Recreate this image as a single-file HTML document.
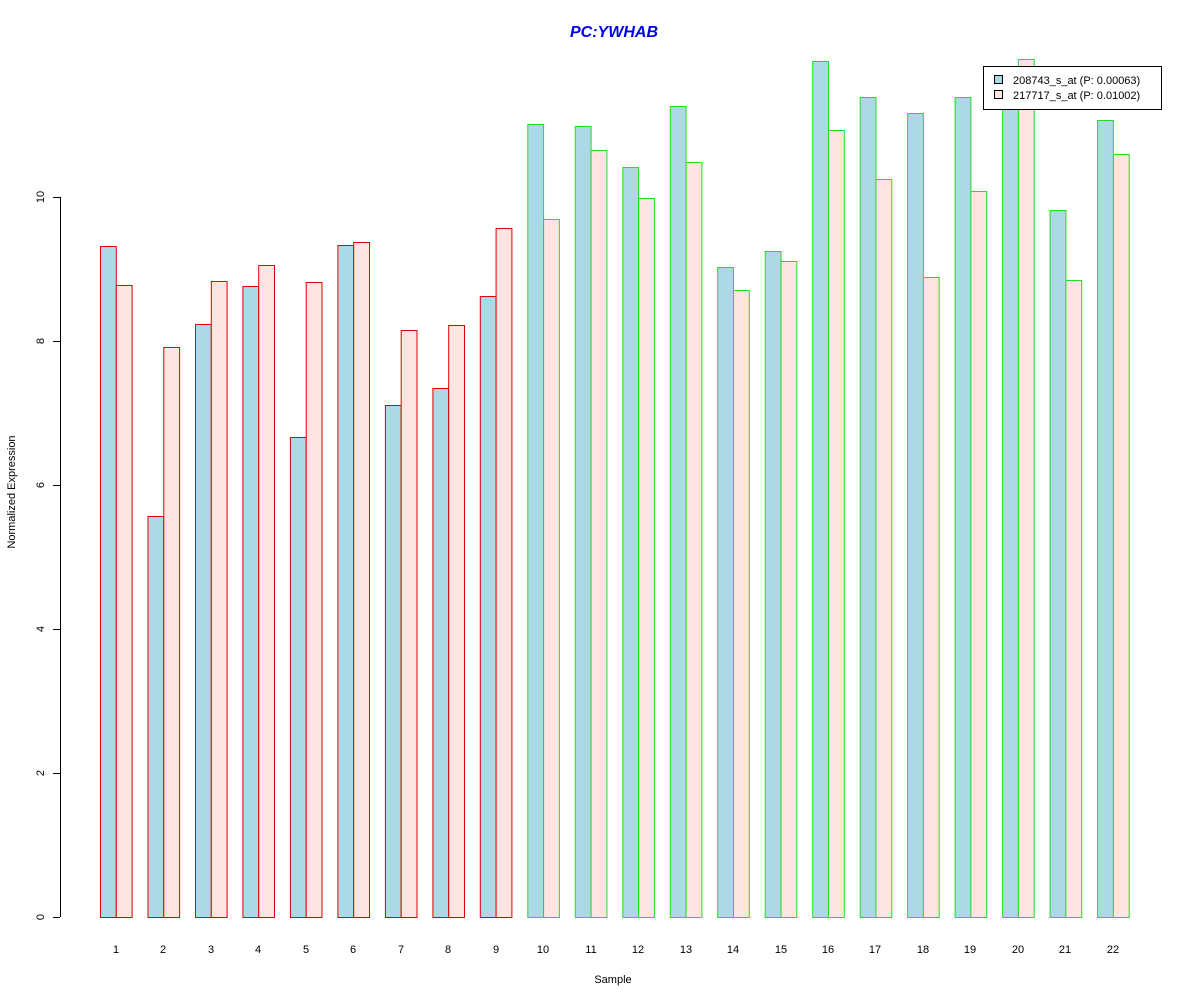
<!DOCTYPE html><html><head><style>body{margin:0;background:#fff}</style></head><body>
<svg width="1200" height="1000" xmlns="http://www.w3.org/2000/svg" font-family="Liberation Sans, sans-serif">
<text x="614" y="37" text-anchor="middle" font-size="16" font-weight="bold" font-style="italic" fill="#0000EE">PC:YWHAB</text>
<g stroke="#E00000">
<rect x="100.5" y="246.5" width="15.8" height="671" fill="#ADD8E6"/><rect x="116.3" y="285.5" width="15.8" height="632" fill="#FFE4E1"/>
<rect x="148" y="516.5" width="15.8" height="401" fill="#ADD8E6"/><rect x="163.8" y="347.5" width="15.8" height="570" fill="#FFE4E1"/>
<rect x="195.5" y="324.5" width="15.8" height="593" fill="#ADD8E6"/><rect x="211.3" y="281.5" width="15.8" height="636" fill="#FFE4E1"/>
<rect x="242.9" y="286.5" width="15.8" height="631" fill="#ADD8E6"/><rect x="258.7" y="265.5" width="15.8" height="652" fill="#FFE4E1"/>
<rect x="290.4" y="437.5" width="15.8" height="480" fill="#ADD8E6"/><rect x="306.2" y="282.5" width="15.8" height="635" fill="#FFE4E1"/>
<rect x="337.9" y="245.5" width="15.8" height="672" fill="#ADD8E6"/><rect x="353.7" y="242.5" width="15.8" height="675" fill="#FFE4E1"/>
<rect x="385.4" y="405.5" width="15.8" height="512" fill="#ADD8E6"/><rect x="401.2" y="330.5" width="15.8" height="587" fill="#FFE4E1"/>
<rect x="432.9" y="388.5" width="15.8" height="529" fill="#ADD8E6"/><rect x="448.7" y="325.5" width="15.8" height="592" fill="#FFE4E1"/>
<rect x="480.3" y="296.5" width="15.8" height="621" fill="#ADD8E6"/><rect x="496.1" y="228.5" width="15.8" height="689" fill="#FFE4E1"/>
</g>
<g stroke="#22DD22">
<rect x="527.8" y="124.5" width="15.8" height="793" fill="#ADD8E6"/><rect x="543.6" y="219.5" width="15.8" height="698" fill="#FFE4E1"/>
<rect x="575.3" y="126.5" width="15.8" height="791" fill="#ADD8E6"/><rect x="591.1" y="150.5" width="15.8" height="767" fill="#FFE4E1"/>
<rect x="622.8" y="167.5" width="15.8" height="750" fill="#ADD8E6"/><rect x="638.6" y="198.5" width="15.8" height="719" fill="#FFE4E1"/>
<rect x="670.3" y="106.5" width="15.8" height="811" fill="#ADD8E6"/><rect x="686.1" y="162.5" width="15.8" height="755" fill="#FFE4E1"/>
<rect x="717.7" y="267.5" width="15.8" height="650" fill="#ADD8E6"/><rect x="733.5" y="290.5" width="15.8" height="627" fill="#FFE4E1"/>
<rect x="765.2" y="251.5" width="15.8" height="666" fill="#ADD8E6"/><rect x="781" y="261.5" width="15.8" height="656" fill="#FFE4E1"/>
<rect x="812.7" y="61.5" width="15.8" height="856" fill="#ADD8E6"/><rect x="828.5" y="130.5" width="15.8" height="787" fill="#FFE4E1"/>
<rect x="860.2" y="97.5" width="15.8" height="820" fill="#ADD8E6"/><rect x="876" y="179.5" width="15.8" height="738" fill="#FFE4E1"/>
<rect x="907.6" y="113.5" width="15.8" height="804" fill="#ADD8E6"/><rect x="923.4" y="277.5" width="15.8" height="640" fill="#FFE4E1"/>
<rect x="955.1" y="97.5" width="15.8" height="820" fill="#ADD8E6"/><rect x="970.9" y="191.5" width="15.8" height="726" fill="#FFE4E1"/>
<rect x="1002.6" y="97.5" width="15.8" height="820" fill="#ADD8E6"/><rect x="1018.4" y="59.5" width="15.8" height="858" fill="#FFE4E1"/>
<rect x="1050.1" y="210.5" width="15.8" height="707" fill="#ADD8E6"/><rect x="1065.9" y="280.5" width="15.8" height="637" fill="#FFE4E1"/>
<rect x="1097.6" y="120.5" width="15.8" height="797" fill="#ADD8E6"/><rect x="1113.4" y="154.5" width="15.8" height="763" fill="#FFE4E1"/>
</g>
<line x1="60.5" y1="197" x2="60.5" y2="917" stroke="#000"/>
<g stroke="#000">
<line x1="53" x2="60" y1="917.5" y2="917.5"/><line x1="53" x2="60" y1="773.5" y2="773.5"/><line x1="53" x2="60" y1="629.5" y2="629.5"/><line x1="53" x2="60" y1="485.5" y2="485.5"/><line x1="53" x2="60" y1="341.5" y2="341.5"/><line x1="53" x2="60" y1="197.5" y2="197.5"/>
</g>
<g font-size="11" text-anchor="middle">
<text transform="translate(44,917) rotate(-90)">0</text>
<text transform="translate(44,773) rotate(-90)">2</text>
<text transform="translate(44,629) rotate(-90)">4</text>
<text transform="translate(44,485) rotate(-90)">6</text>
<text transform="translate(44,341) rotate(-90)">8</text>
<text transform="translate(44,197) rotate(-90)">10</text>
</g>
<g font-size="11" text-anchor="middle">
<text x="116" y="953">1</text><text x="163" y="953">2</text><text x="211" y="953">3</text><text x="258" y="953">4</text><text x="306" y="953">5</text><text x="353" y="953">6</text><text x="401" y="953">7</text><text x="448" y="953">8</text><text x="496" y="953">9</text><text x="543" y="953">10</text><text x="591" y="953">11</text><text x="638" y="953">12</text><text x="686" y="953">13</text><text x="733" y="953">14</text><text x="781" y="953">15</text><text x="828" y="953">16</text><text x="875" y="953">17</text><text x="923" y="953">18</text><text x="970" y="953">19</text><text x="1018" y="953">20</text><text x="1065" y="953">21</text><text x="1113" y="953">22</text>
</g>
<text x="613" y="983" text-anchor="middle" font-size="11">Sample</text>
<text transform="translate(15,492) rotate(-90)" text-anchor="middle" font-size="11">Normalized Expression</text>
<rect x="983.5" y="66.5" width="178" height="43" fill="#fff" stroke="#000"/>
<rect x="994.5" y="75.5" width="8" height="8" fill="#ADD8E6" stroke="#000"/>
<rect x="994.5" y="90.5" width="8" height="8" fill="#FFE4E1" stroke="#000"/>
<text x="1013" y="84" font-size="11">208743_s_at (P: 0.00063)</text>
<text x="1013" y="99" font-size="11">217717_s_at (P: 0.01002)</text>
</svg></body></html>
